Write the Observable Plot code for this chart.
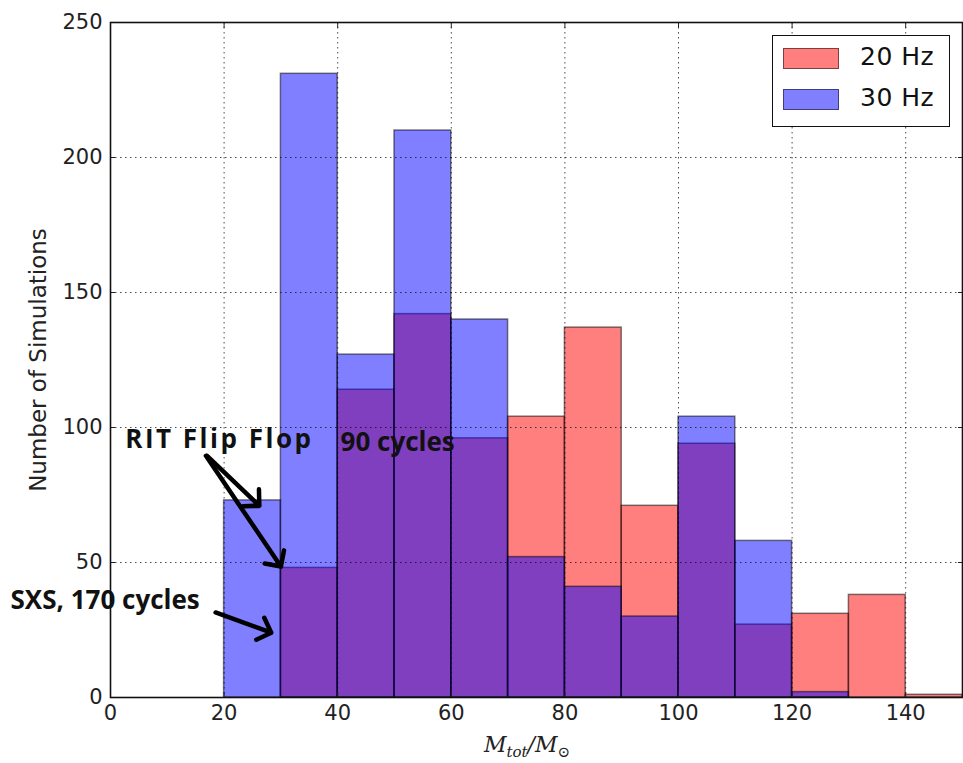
<!DOCTYPE html>
<html>
<head>
<meta charset="utf-8">
<script src="https://cdn.jsdelivr.net/npm/d3@7"></script>
<script src="https://cdn.jsdelivr.net/npm/@observablehq/plot@0.6"></script>
<style>
  body { margin: 0; background: white; }
  #wrap { position: relative; width: 963px; height: 763px; }
  #legend { position: absolute; left: 772px; top: 35px; width: 176px; height: 90px;
    border: 1.5px solid #111; background: white; font-family: "DejaVu Sans", sans-serif; }
  .row { position: absolute; left: 10px; height: 21px; }
  .sw { position: absolute; left: 0; top: 0; width: 54px; height: 19px; border: 1px solid rgba(0,0,0,0.5); }
  .lab { position: absolute; left: 77px; top: -6px; font-size: 25px; color: #111; white-space: nowrap; letter-spacing: 0.5px; }
</style>
</head>
<body>
<div id="wrap"></div>
<script>
// ---- data ----
const binStart = [0, 10, 20, 30, 40, 50, 60, 70, 80, 90, 100, 110, 120, 130, 140];
const binWidth = 10;
const hz20 = [0, 0, 0, 48, 114, 142, 96, 104, 137, 71, 94, 27, 31, 38, 1];
const hz30 = [0, 0, 73, 231, 127, 210, 140, 52, 41, 30, 104, 58, 2, 0, 0];
const seriesNames = ["20 Hz", "30 Hz"];
const seriesColors = ["#ff0000", "#0000ff"];
const xTicks = [0, 20, 40, 60, 80, 100, 120, 140];
const yTicks = [0, 50, 100, 150, 200, 250];
const annoText = ["RIT Flip Flop", "90 cycles", "SXS, 170 cycles"];
const annoX = [2.6, 40.5, -17.6];
const annoY = [95.5, 94.5, 36];
const arrowX1 = [17.0, 16.8, 18.5];
const arrowY1 = [89.5, 89.5, 31.5];
const arrowX2 = [26.2, 30, 28.3];
const arrowY2 = [71, 48.5, 24];

// ---- build tables ----
const rows = (vals, name) => vals.map((v, i) => ({x1: binStart[i], x2: binStart[i] + binWidth, y: v, s: name}));
const annos = annoText.map((t, i) => ({t, x: annoX[i], y: annoY[i]}));
const arrows = arrowX1.map((_, i) => ({x1: arrowX1[i], y1: arrowY1[i], x2: arrowX2[i], y2: arrowY2[i]}));

const barOpts = {x1: "x1", x2: "x2", y1: 0, y2: "y", fill: "s", fillOpacity: 0.5, stroke: "black", strokeOpacity: 0.5, strokeWidth: 1.5};

const chart = Plot.plot({
  width: 963, height: 763,
  marginLeft: 110, marginRight: 1, marginTop: 22, marginBottom: 66,
  x: {domain: [0, 150]},
  y: {domain: [0, 250]},
  color: {domain: seriesNames, range: seriesColors},
  style: {fontFamily: "DejaVu Sans, sans-serif", fontSize: "21px", color: "#222", background: "white", overflow: "visible"},
  marks: [
    Plot.rect(rows(hz20, seriesNames[0]), barOpts),
    Plot.rect(rows(hz30, seriesNames[1]), barOpts),
    Plot.gridX(xTicks.filter(d => d > 0), {stroke: "black", strokeOpacity: 0.7, strokeDasharray: "1.5,3.5"}),
    Plot.gridY(yTicks.filter(d => d > 0 && d < 250), {stroke: "black", strokeOpacity: 0.7, strokeDasharray: "1.5,3.5"}),
    Plot.axisX({ticks: xTicks, tickSize: -5, tickPadding: 13, label: null, fontSize: 21}),
    Plot.axisX({anchor: "top", ticks: xTicks, tickSize: -5, tickFormat: () => "", label: null}),
    Plot.axisY({ticks: yTicks, tickSize: -5, tickPadding: 13, label: null, fontSize: 21}),
    Plot.axisY({anchor: "right", ticks: yTicks, tickSize: -5, tickFormat: () => "", label: null}),
    Plot.frame({stroke: "#111", strokeWidth: 1.6}),
    Plot.arrow(arrows, {x1: "x1", y1: "y1", x2: "x2", y2: "y2", stroke: "black", strokeWidth: 4.5, headLength: 5.5, headAngle: 90}),
    Plot.text(annos, {x: "x", y: "y", text: "t", textAnchor: "start", fontWeight: "bold", fontSize: 26, fill: "#111", fontFamily: "Open Sans, sans-serif", clip: false})
  ]
});
document.getElementById("wrap").appendChild(chart);

const svg = d3.select(chart);
// widen the "RIT Flip Flop" annotation spacing
svg.selectAll("text").filter(function() { return this.textContent === annoText[0]; }).attr("letter-spacing", 2.5);

// y-axis label
svg.append("text").attr("transform", "translate(46,360) rotate(-90)").attr("text-anchor", "middle")
  .attr("font-family", "DejaVu Sans, sans-serif").attr("font-size", 23).attr("fill", "#222").text("Number of Simulations");

// x-axis label with sub-scripts
const xl = svg.append("text").attr("x", 527).attr("y", 752).attr("text-anchor", "middle")
  .attr("font-family", "DejaVu Serif, serif").attr("font-style", "italic").attr("font-size", 22).attr("fill", "#222");
xl.append("tspan").text("M");
xl.append("tspan").attr("font-size", 15).attr("dy", 5).text("tot");
xl.append("tspan").attr("dy", -5).text("/M");
xl.append("tspan").attr("font-size", 15).attr("font-style", "normal").attr("dy", 5).text("⊙");

// legend
const lg = d3.select("#wrap").append("div").attr("id", "legend");
seriesNames.forEach((n, i) => {
  const r = lg.append("div").attr("class", "row").style("top", (i === 0 ? 12 : 53) + "px");
  r.append("div").attr("class", "sw").style("background", d3.color(seriesColors[i]).copy({opacity: 0.5}).toString());
  r.append("div").attr("class", "lab").text(n);
});
</script>
</body>
</html>
